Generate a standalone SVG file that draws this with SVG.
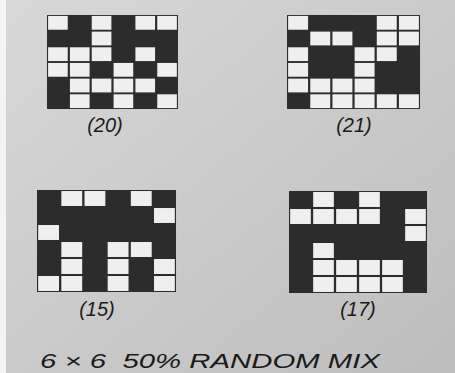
<svg xmlns="http://www.w3.org/2000/svg" xmlns:xlink="http://www.w3.org/1999/xlink" width="455" height="373" viewBox="0 0 455 373">
<style>
.dark{fill:#2c2c2c}
.w{fill:#efefef}
.lbl{font-family:"Liberation Sans",Arial,sans-serif;font-style:italic;font-size:20px;fill:#1a1a1a;text-anchor:middle}
.title{font-family:"Liberation Sans",Arial,sans-serif;font-style:italic;font-size:20px;fill:#1a1a1a}
</style>
<defs>
<linearGradient id="bg" x1="0" y1="0" x2="1" y2="1">
<stop offset="0" stop-color="#d8d8d8"/>
<stop offset="1" stop-color="#bdbdbd"/>
</linearGradient>
<rect id="c" width="9" height="8.8" class="w"/>
</defs>
<rect width="455" height="373" fill="url(#bg)"/>
<rect width="6" height="373" fill="#f4f4f4"/>

<g id="grid20" transform="translate(47,15) scale(2.183,1.567)">
<rect width="60" height="60" class="dark"/>
<g transform="translate(0.5,0.6)">
<use xlink:href="#c" x="0" y="0"/><use xlink:href="#c" x="20" y="0"/><use xlink:href="#c" x="40" y="0"/><use xlink:href="#c" x="50" y="0"/>
<use xlink:href="#c" x="20" y="10"/>
<use xlink:href="#c" x="0" y="20"/><use xlink:href="#c" x="10" y="20"/><use xlink:href="#c" x="20" y="20"/><use xlink:href="#c" x="40" y="20"/>
<use xlink:href="#c" x="0" y="30"/><use xlink:href="#c" x="10" y="30"/><use xlink:href="#c" x="30" y="30"/><use xlink:href="#c" x="50" y="30"/>
<use xlink:href="#c" x="10" y="40"/><use xlink:href="#c" x="20" y="40"/><use xlink:href="#c" x="30" y="40"/><use xlink:href="#c" x="40" y="40"/>
<use xlink:href="#c" x="10" y="50"/><use xlink:href="#c" x="30" y="50"/><use xlink:href="#c" x="50" y="50"/>
</g>
</g>
<text id="label20" class="lbl" x="105" y="132">(20)</text>

<g id="grid21" transform="translate(287,15) scale(2.217,1.567)">
<rect width="60" height="60" class="dark"/>
<g transform="translate(0.5,0.6)">
<use xlink:href="#c" x="0" y="0"/><use xlink:href="#c" x="40" y="0"/><use xlink:href="#c" x="50" y="0"/>
<use xlink:href="#c" x="10" y="10"/><use xlink:href="#c" x="20" y="10"/><use xlink:href="#c" x="40" y="10"/><use xlink:href="#c" x="50" y="10"/>
<use xlink:href="#c" x="0" y="20"/><use xlink:href="#c" x="30" y="20"/><use xlink:href="#c" x="40" y="20"/>
<use xlink:href="#c" x="0" y="30"/><use xlink:href="#c" x="30" y="30"/>
<use xlink:href="#c" x="0" y="40"/><use xlink:href="#c" x="10" y="40"/><use xlink:href="#c" x="20" y="40"/><use xlink:href="#c" x="30" y="40"/>
<use xlink:href="#c" x="10" y="50"/><use xlink:href="#c" x="20" y="50"/><use xlink:href="#c" x="30" y="50"/><use xlink:href="#c" x="40" y="50"/><use xlink:href="#c" x="50" y="50"/>
</g>
</g>
<text id="label21" class="lbl" x="354" y="132">(21)</text>

<g id="grid15" transform="translate(37,190) scale(2.317,1.7)">
<rect width="60" height="60" class="dark"/>
<g transform="translate(0.5,0.6)">
<use xlink:href="#c" x="10" y="0"/><use xlink:href="#c" x="20" y="0"/><use xlink:href="#c" x="40" y="0"/>
<use xlink:href="#c" x="50" y="10"/>
<use xlink:href="#c" x="0" y="20"/>
<use xlink:href="#c" x="10" y="30"/><use xlink:href="#c" x="30" y="30"/><use xlink:href="#c" x="40" y="30"/>
<use xlink:href="#c" x="10" y="40"/><use xlink:href="#c" x="30" y="40"/><use xlink:href="#c" x="50" y="40"/>
<use xlink:href="#c" x="0" y="50"/><use xlink:href="#c" x="10" y="50"/><use xlink:href="#c" x="30" y="50"/><use xlink:href="#c" x="50" y="50"/>
</g>
</g>
<text id="label15" class="lbl" x="97" y="316">(15)</text>

<g id="grid17" transform="translate(289,191) scale(2.3,1.7)">
<rect width="60" height="60" class="dark"/>
<g transform="translate(0.5,0.6)">
<use xlink:href="#c" x="10" y="0"/><use xlink:href="#c" x="30" y="0"/>
<use xlink:href="#c" x="0" y="10"/><use xlink:href="#c" x="10" y="10"/><use xlink:href="#c" x="20" y="10"/><use xlink:href="#c" x="30" y="10"/><use xlink:href="#c" x="50" y="10"/>
<use xlink:href="#c" x="50" y="20"/>
<use xlink:href="#c" x="10" y="30"/>
<use xlink:href="#c" x="10" y="40"/><use xlink:href="#c" x="20" y="40"/><use xlink:href="#c" x="30" y="40"/><use xlink:href="#c" x="40" y="40"/>
<use xlink:href="#c" x="10" y="50"/><use xlink:href="#c" x="20" y="50"/><use xlink:href="#c" x="30" y="50"/><use xlink:href="#c" x="40" y="50"/>
</g>
</g>
<text id="label17" class="lbl" x="358" y="316">(17)</text>

<g id="connectors"/>
<text id="title" class="title" x="40" y="368" textLength="340" lengthAdjust="spacingAndGlyphs">6 × 6&#160; 50% RANDOM MIX</text>
</svg>
